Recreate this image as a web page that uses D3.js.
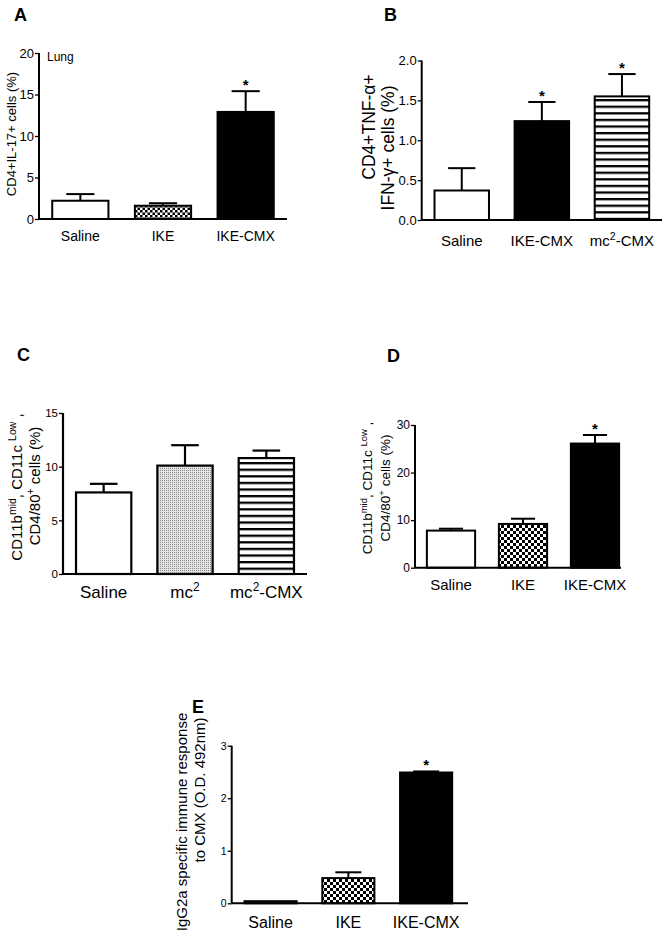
<!DOCTYPE html>
<html><head><meta charset="utf-8">
<script src="https://cdn.jsdelivr.net/npm/d3@7"></script>
<style>
html,body{margin:0;padding:0;background:#fff;}
svg{display:block;font-family:"Liberation Sans",Arial,Helvetica,sans-serif;}
</style></head>
<body>
<svg id="fig" width="671" height="938"></svg>
<script>
// ---------- DATA ----------
const catsA = ["Saline", "IKE", "IKE-CMX"];
const valsA = [2.2, 1.6, 12.9];
const errA  = [0.8, 0.3, 2.5];
const sigA  = [false, false, true];
const ticksA = [0, 5, 10, 15, 20];

const catsB = ["Saline", "IKE-CMX", "mc2-CMX"];
const valsB = [0.37, 1.24, 1.55];
const errB  = [0.28, 0.24, 0.28];
const sigB  = [false, true, true];
const ticksB = [0, 0.5, 1.0, 1.5, 2.0];

const catsC = ["Saline", "mc2", "mc2-CMX"];
const valsC = [7.6, 10.1, 10.8];
const errC  = [0.8, 1.9, 0.7];
const sigC  = [false, false, false];
const ticksC = [0, 5, 10, 15];

const catsD = ["Saline", "IKE", "IKE-CMX"];
const valsD = [7.8, 9.2, 26.1];
const errD  = [0.4, 1.1, 1.8];
const sigD  = [false, false, true];
const ticksD = [0, 10, 20, 30];

const catsE = ["Saline", "IKE", "IKE-CMX"];
const valsE = [0.04, 0.48, 2.49];
const errE  = [0.0, 0.11, 0.02];
const sigE  = [false, false, true];
const ticksE = [0, 1, 2, 3];

// ---------- SETUP ----------
const svg = d3.select("#fig");
const defs = svg.append("defs");

function checker(id, s) {
  const p = defs.append("pattern").attr("id", id).attr("patternUnits", "userSpaceOnUse")
    .attr("width", 2 * s).attr("height", 2 * s);
  p.append("rect").attr("width", 2 * s).attr("height", 2 * s).attr("fill", "#fff");
  p.append("rect").attr("width", s).attr("height", s).attr("fill", "#000");
  p.append("rect").attr("x", s).attr("y", s).attr("width", s).attr("height", s).attr("fill", "#000");
}
checker("checkSmall", 2.5);
checker("check", 3);
(function () {
  const p = defs.append("pattern").attr("id", "stripes").attr("patternUnits", "userSpaceOnUse")
    .attr("width", 10).attr("height", 6.6);
  p.append("rect").attr("width", 10).attr("height", 6.6).attr("fill", "#fff");
  p.append("rect").attr("y", 0).attr("width", 10).attr("height", 2.3).attr("fill", "#000");
})();
(function () {
  const p = defs.append("pattern").attr("id", "dots").attr("patternUnits", "userSpaceOnUse")
    .attr("width", 2).attr("height", 2);
  p.append("rect").attr("width", 2).attr("height", 2).attr("fill", "#e4e4e4");
  p.append("rect").attr("width", 1).attr("height", 1).attr("fill", "#8a8a8a");
})();

const fillMap = { white: "#fff", black: "#000", checkSmall: "url(#checkSmall)", check: "url(#check)", stripes: "url(#stripes)", dots: "url(#dots)" };

function catLabel(sel, name) {
  if (name.startsWith("mc2")) {
    sel.append("tspan").text("mc");
    sel.append("tspan").attr("baseline-shift", "super").attr("font-size", "0.7em").text("2");
    sel.append("tspan").text(name.slice(3));
  } else sel.text(name);
}

function panel(cfg) {
  const g = svg.append("g");
  const y = d3.scaleLinear().domain([0, cfg.max]).range([cfg.y0, cfg.yTop]);
  const x = d3.scaleBand().domain(cfg.cats).range([cfg.x0, cfg.bandEnd])
    .paddingInner(cfg.pad).paddingOuter(cfg.pad / 2);

  cfg.cats.forEach((c, i) => {
    const v = cfg.vals[i], e = cfg.errs[i];
    const xl = x(c), w = x.bandwidth(), cx = xl + w / 2;
    if (e > 0) {
      g.append("line").attr("x1", cx).attr("x2", cx).attr("y1", y(v)).attr("y2", y(v + e))
        .attr("stroke", "#000").attr("stroke-width", cfg.lw);
      g.append("line").attr("x1", cx - w / 4).attr("x2", cx + w / 4).attr("y1", y(v + e)).attr("y2", y(v + e))
        .attr("stroke", "#000").attr("stroke-width", cfg.lw);
    }
    g.append("rect").attr("x", xl).attr("y", y(v)).attr("width", w).attr("height", cfg.y0 - y(v))
      .attr("fill", fillMap[cfg.fills[i]]).attr("stroke", "#000").attr("stroke-width", cfg.lw);
    if (cfg.sig[i]) {
      g.append("text").attr("x", cx).attr("y", y(v + e) - 1).attr("text-anchor", "middle")
        .attr("font-size", 15).attr("font-weight", "bold").text("*");
    }
  });

  const ax = g.append("g").attr("transform", `translate(${cfg.x0},0)`)
    .call(d3.axisLeft(y).tickValues(cfg.ticks).tickSize(4).tickPadding(1).tickFormat(cfg.fmt));
  ax.select(".domain").attr("d", `M0,${cfg.y0}V${cfg.yTop}`).attr("stroke-width", cfg.lw);
  ax.selectAll(".tick line").attr("stroke-width", 1.3);
  ax.selectAll(".tick text").attr("font-size", cfg.tickFs).attr("font-family", "Liberation Sans, Arial, sans-serif").attr("fill", "#000");
  g.append("line").attr("x1", cfg.x0).attr("x2", cfg.axisEnd).attr("y1", cfg.y0).attr("y2", cfg.y0)
    .attr("stroke", "#000").attr("stroke-width", cfg.lw);

  cfg.cats.forEach(c => {
    const t = g.append("text").attr("x", x(c) + x.bandwidth() / 2).attr("y", cfg.labelY)
      .attr("text-anchor", "middle").attr("font-size", cfg.labelFs);
    catLabel(t, c);
  });

  g.append("text").attr("x", cfg.letterX).attr("y", cfg.letterY).attr("font-size", 18)
    .attr("font-weight", "bold").text(cfg.letter);

  cfg.ytitle.forEach(l => {
    const t = g.append("text").attr("transform", `translate(${l.x},${l.y}) rotate(-90)`)
      .attr("text-anchor", "middle").attr("dy", "0.35em").attr("font-size", cfg.titleFs);
    l.parts.forEach(p => {
      const s = t.append("tspan").text(p.t);
      if (p.sup) s.attr("baseline-shift", "super").attr("font-size", "0.7em");
    });
  });
  return g;
}

panel({ cats: catsA, vals: valsA, errs: errA, sig: sigA, ticks: ticksA, fmt: d3.format("d"),
  fills: ["white", "checkSmall", "black"], max: 20, x0: 39, bandEnd: 287, axisEnd: 287, y0: 219, yTop: 53,
  pad: 0.32, lw: 2, tickFs: 13, labelFs: 14, labelY: 241, letter: "A", letterX: 14, letterY: 21,
  titleFs: 13, ytitle: [{ x: 11, y: 134, parts: [{ t: "CD4+IL-17+ cells (%)" }] }] });
svg.append("text").attr("x", 47).attr("y", 61).attr("font-size", 12).text("Lung");

panel({ cats: catsB, vals: valsB, errs: errB, sig: sigB, ticks: ticksB, fmt: d3.format(".1f"),
  fills: ["white", "black", "stripes"], max: 2, x0: 421.7, bandEnd: 662, axisEnd: 662, y0: 220, yTop: 60.5,
  pad: 0.32, lw: 2, tickFs: 13, labelFs: 15, labelY: 246, letter: "B", letterX: 384, letterY: 21,
  titleFs: 17.5, ytitle: [
    { x: 369, y: 127, parts: [{ t: "CD4+TNF-α+" }] },
    { x: 388, y: 148, parts: [{ t: "IFN-γ+ cells  (%)" }] }] });

panel({ cats: catsC, vals: valsC, errs: errC, sig: sigC, ticks: ticksC, fmt: d3.format("d"),
  fills: ["white", "dots", "stripes"], max: 15, x0: 63, bandEnd: 307, axisEnd: 307, y0: 574, yTop: 413,
  pad: 0.32, lw: 2.2, tickFs: 11.5, labelFs: 17, labelY: 598, letter: "C", letterX: 17, letterY: 361,
  titleFs: 15, ytitle: [
    { x: 17, y: 487, parts: [{ t: "CD11b" }, { t: "mid", sup: true }, { t: ", CD11c " }, { t: "Low", sup: true }, { t: " ," }] },
    { x: 35, y: 486, parts: [{ t: "CD4/80" }, { t: "+", sup: true }, { t: " cells (%)" }] }] });

panel({ cats: catsD, vals: valsD, errs: errD, sig: sigD, ticks: ticksD, fmt: d3.format("d"),
  fills: ["white", "check", "black"], max: 30, x0: 415, bandEnd: 631, axisEnd: 621, y0: 567.7, yTop: 425,
  pad: 0.33, lw: 2, tickFs: 12, labelFs: 15, labelY: 590, letter: "D", letterX: 387, letterY: 362,
  titleFs: 13.5, ytitle: [
    { x: 367, y: 488, parts: [{ t: "CD11b" }, { t: "mid", sup: true }, { t: ", CD11c " }, { t: "Low", sup: true }, { t: " ," }] },
    { x: 385, y: 488, parts: [{ t: "CD4/80" }, { t: "+", sup: true }, { t: " cells (%)" }] }] });

panel({ cats: catsE, vals: valsE, errs: errE, sig: sigE, ticks: ticksE, fmt: d3.format("d"),
  fills: ["white", "check", "black"], max: 3, x0: 231.7, bandEnd: 465, axisEnd: 468, y0: 903.3, yTop: 745.7,
  pad: 0.33, lw: 2, tickFs: 10.5, labelFs: 16, labelY: 928, letter: "E", letterX: 192, letterY: 713,
  titleFs: 15, ytitle: [
    { x: 182, y: 822, parts: [{ t: "IgG2a specific immune response" }] },
    { x: 200, y: 790, parts: [{ t: "to CMX (O.D. 492nm)" }] }] });
</script>
</body></html>
